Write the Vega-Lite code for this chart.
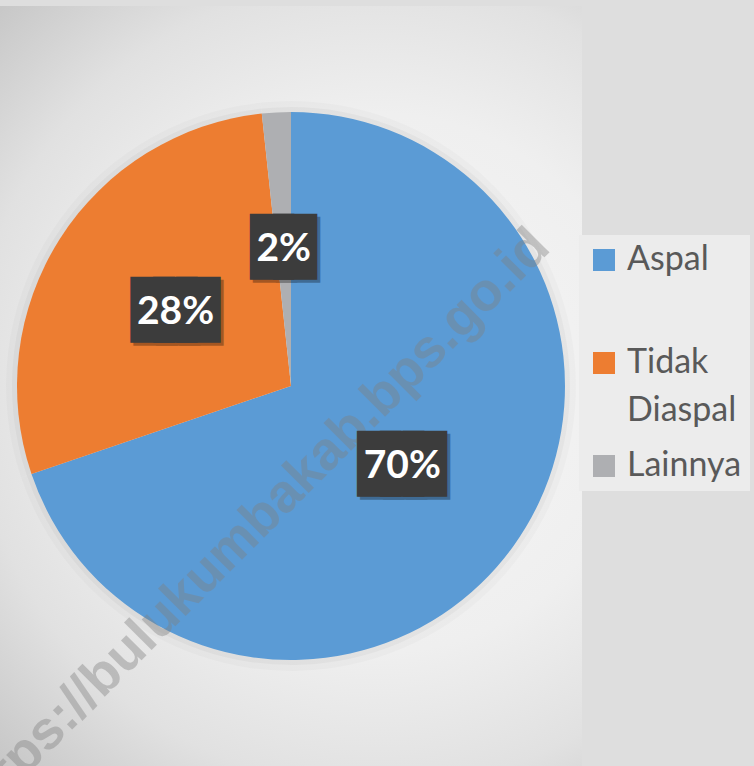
{
  "$schema": "https://vega.github.io/schema/vega-lite/v6.json",
  "width": 582,
  "height": 760,
  "padding": {"top": 6, "left": 0, "right": 172, "bottom": 0},
  "autosize": {"type": "none"},
  "background": "#dedede",
  "view": {
    "stroke": null,
    "fill": {
      "gradient": "radial",
      "x1": 0.613, "y1": 0.496, "r1": 0,
      "x2": 0.613, "y2": 0.496, "r2": 0.71,
      "stops": [
        {"offset": 0, "color": "#f7f7f7"},
        {"offset": 0.5, "color": "#efefef"},
        {"offset": 0.75, "color": "#e1e1e1"},
        {"offset": 1, "color": "#c6c6c6"}
      ]
    }
  },
  "config": {
    "style": {"guide-label": {"lineHeight": 48}}
  },
  "datasets": {
    "jalan": [
      {"kategori": "Aspal", "nilai": 69.8, "label": "70%", "urut": 1},
      {"kategori": "Tidak Diaspal", "nilai": 28.5, "label": "28%", "urut": 2},
      {"kategori": "Lainnya", "nilai": 1.7, "label": "2%", "urut": 3}
    ],
    "tanda": [
      {"teks": "https://bulukumbakab.bps.go.id"}
    ]
  },
  "layer": [
    {
      "data": {"name": "jalan"},
      "mark": {"type": "arc", "outerRadius": 285, "color": "#000000", "opacity": 0.02},
      "encoding": {
        "theta": {"field": "nilai", "type": "quantitative", "stack": true},
        "order": {"field": "urut", "type": "quantitative"}
      }
    },
    {
      "data": {"name": "jalan"},
      "mark": {"type": "arc", "outerRadius": 279, "color": "#000000", "opacity": 0.03},
      "encoding": {
        "theta": {"field": "nilai", "type": "quantitative", "stack": true},
        "order": {"field": "urut", "type": "quantitative"}
      }
    },
    {
      "data": {"name": "jalan"},
      "mark": {"type": "arc", "outerRadius": 274},
      "encoding": {
        "theta": {"field": "nilai", "type": "quantitative", "stack": true},
        "order": {"field": "urut", "type": "quantitative"},
        "color": {
          "field": "kategori",
          "type": "nominal",
          "scale": {
            "domain": ["Aspal", "Tidak Diaspal", "Lainnya"],
            "range": ["#5B9BD5", "#ED7D31", "#AEAFB2"]
          },
          "legend": {
            "title": null,
            "orient": "none",
            "legendX": 579,
            "legendY": 229,
            "padding": 8,
            "fillColor": "#ececec",
            "symbolType": "square",
            "symbolSize": 484,
            "symbolStrokeWidth": 0,
            "labelFont": "Lato",
            "labelFontSize": 34,
            "labelColor": "#595959",
            "labelOffset": 6,
            "labelLimit": 300,
            "gridAlign": "all",
            "rowPadding": 21,
            "labelExpr": "datum.label == 'Tidak Diaspal' ? ['Tidak', 'Diaspal'] : datum.label"
          }
        }
      }
    },
    {
      "data": {"name": "tanda"},
      "mark": {
        "type": "text",
        "angle": 315,
        "font": "Liberation Sans",
        "fontWeight": "bold",
        "fontSize": 54,
        "color": "#808080",
        "opacity": 0.4,
        "align": "center",
        "baseline": "middle",
        "radius": 146,
        "theta": 3.41
      },
      "encoding": {
        "text": {"field": "teks", "type": "nominal"}
      }
    },
    {
      "data": {"name": "jalan"},
      "mark": {
        "type": "text",
        "radius": 137,
        "font": "DejaVu Sans Mono",
        "fontSize": 38,
        "color": "#000000",
        "opacity": 0.3,
        "stroke": "#000000",
        "strokeWidth": 21,
        "strokeJoin": "miter",
        "align": "center",
        "baseline": "middle",
        "dx": 3,
        "dy": 3
      },
      "encoding": {
        "theta": {"field": "nilai", "type": "quantitative", "stack": true},
        "order": {"field": "urut", "type": "quantitative"},
        "text": {"condition": {"test": "datum.kategori == 'Lainnya'", "value": "██"}, "value": "███"}
      }
    },
    {
      "data": {"name": "jalan"},
      "mark": {
        "type": "text",
        "radius": 137,
        "font": "DejaVu Sans Mono",
        "fontSize": 38,
        "color": "#3c3c3c",
        "stroke": "#3c3c3c",
        "strokeWidth": 21,
        "strokeJoin": "miter",
        "align": "center",
        "baseline": "middle"
      },
      "encoding": {
        "theta": {"field": "nilai", "type": "quantitative", "stack": true},
        "order": {"field": "urut", "type": "quantitative"},
        "text": {"condition": {"test": "datum.kategori == 'Lainnya'", "value": "██"}, "value": "███"}
      }
    },
    {
      "data": {"name": "jalan"},
      "mark": {
        "type": "text",
        "radius": 137,
        "font": "Lato",
        "fontWeight": "bold",
        "fontSize": 39,
        "color": "#ffffff",
        "align": "center",
        "baseline": "middle"
      },
      "encoding": {
        "theta": {"field": "nilai", "type": "quantitative", "stack": true},
        "order": {"field": "urut", "type": "quantitative"},
        "text": {"field": "label", "type": "nominal"}
      }
    }
  ]
}
